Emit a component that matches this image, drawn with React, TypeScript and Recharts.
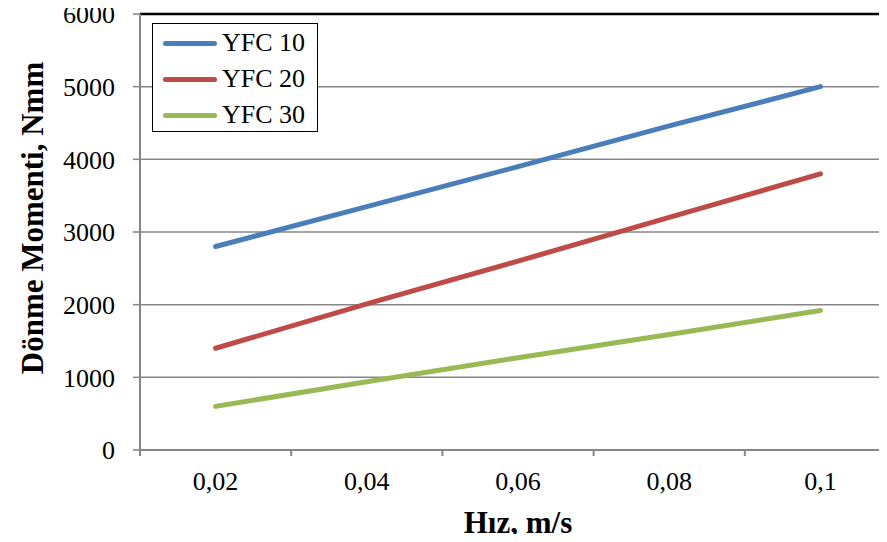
import {
  LineChart,
  Line,
  XAxis,
  YAxis,
  CartesianGrid,
  Legend,
  ReferenceLine,
} from "recharts";

const speeds = [0.02, 0.04, 0.06, 0.08, 0.1];
const yfc10 = [2800, 3350, 3900, 4460, 5000];
const yfc20 = [1400, 2010, 2600, 3200, 3800];
const yfc30 = [600, 940, 1270, 1590, 1920];

const torqueTicks = [0, 1000, 2000, 3000, 4000, 5000, 6000];
// tick marks sit between the speed categories
const boundaryTicks = [0.01, 0.03, 0.05, 0.07, 0.09, 0.11];

const data = speeds.map((s, i) => ({
  speed: s,
  yfc10: yfc10[i],
  yfc20: yfc20[i],
  yfc30: yfc30[i],
}));

const serif = "'Liberation Serif', 'Times New Roman', serif";
const axisGray = "#868686";

const SpeedTick = (props: any) => {
  const { x, y, payload } = props;
  const v = payload.value;
  if (speeds.includes(v)) {
    return (
      <text
        x={x}
        y={y + 40}
        textAnchor="middle"
        fontFamily={serif}
        fontSize={26}
        fill="#000"
      >
        {String(v).replace(".", ",")}
      </text>
    );
  }
  return <line x1={x} x2={x} y1={y} y2={y + 6} stroke={axisGray} strokeWidth={2} />;
};

const TorqueTitle = () => (
  <text
    x={43}
    y={218}
    transform="rotate(-90, 43, 218)"
    textAnchor="middle"
    fontFamily={serif}
    fontSize={31}
    fontWeight="bold"
    fill="#000"
  >
    Dönme Momenti, Nmm
  </text>
);

const LegendBox = ({ payload }: any) => (
  <div
    style={{
      border: "1.5px solid #000",
      width: 166,
      height: 109,
      boxSizing: "border-box",
      padding: "1px 0 0 10px",
      fontFamily: serif,
      fontSize: 26,
      background: "#fff",
    }}
  >
    {(payload || []).map((p: any) => (
      <div
        key={p.value}
        style={{ display: "flex", alignItems: "center", height: 36, lineHeight: "36px" }}
      >
        <span
          style={{
            display: "inline-block",
            width: 54,
            height: 5,
            borderRadius: 3,
            background: p.color,
            marginRight: 5,
          }}
        />
        <span>{p.value}</span>
      </div>
    ))}
  </div>
);

export default function App() {
  return (
    <div
      style={{
        margin: -8,
        width: 887,
        height: 542,
        overflow: "hidden",
        position: "relative",
        background: "#fff",
      }}
    >
      <LineChart
        width={900}
        height={542}
        data={data}
        margin={{ top: 14, right: 4, bottom: 0, left: 0 }}
      >
        <CartesianGrid vertical={false} stroke={axisGray} strokeWidth={1.5} />
        <XAxis
          dataKey="speed"
          type="number"
          domain={[0.01, 0.11]}
          ticks={[...boundaryTicks, ...speeds].sort((a, b) => a - b)}
          interval={0}
          tick={<SpeedTick />}
          tickLine={false}
          tickSize={0}
          tickMargin={0}
          axisLine={{ stroke: axisGray, strokeWidth: 2 }}
          height={92}
          label={{
            value: "Hız, m/s",
            position: "insideBottom",
            offset: 9,
            style: { fontFamily: serif, fontSize: 31, fontWeight: "bold", fill: "#000" },
          }}
        />
        <YAxis
          type="number"
          domain={[0, 6000]}
          ticks={torqueTicks}
          interval={0}
          width={140}
          tickSize={7}
          tickMargin={18}
          tickLine={{ stroke: axisGray, strokeWidth: 1.5 }}
          axisLine={{ stroke: axisGray, strokeWidth: 2 }}
          tick={{ fontFamily: serif, fontSize: 26, fill: "#000" }}
          label={{ content: <TorqueTitle /> }}
        />
        <ReferenceLine y={6000} stroke="#000" strokeWidth={2.5} />
        <Legend
          layout="vertical"
          align="center"
          verticalAlign="middle"
          content={<LegendBox />}
          wrapperStyle={{ left: 152, top: 23, width: 166, height: 109 }}
        />
        <Line
          dataKey="yfc10"
          name="YFC 10"
          stroke="#4a7ebb"
          strokeWidth={5}
          strokeLinecap="round"
          dot={false}
          isAnimationActive={false}
        />
        <Line
          dataKey="yfc20"
          name="YFC 20"
          stroke="#be4b48"
          strokeWidth={5}
          strokeLinecap="round"
          dot={false}
          isAnimationActive={false}
        />
        <Line
          dataKey="yfc30"
          name="YFC 30"
          stroke="#98b954"
          strokeWidth={5}
          strokeLinecap="round"
          dot={false}
          isAnimationActive={false}
        />
      </LineChart>
    </div>
  );
}
